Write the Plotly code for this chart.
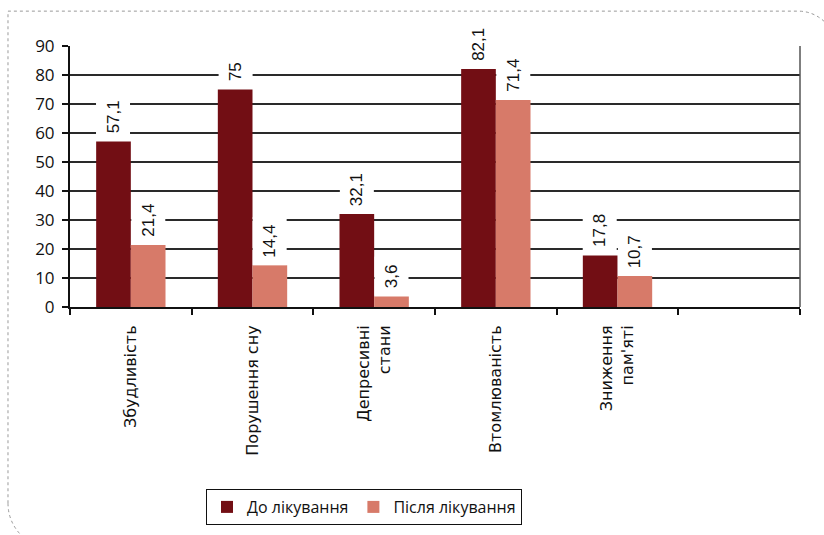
import plotly.graph_objects as go

categories = ["Збудливість", "Порушення сну", "Депресивні<br>стани", "Втомлюваність", "Зниження<br>пам'яті"]
all_categories = categories + [" "]
before = [57.1, 75, 32.1, 82.1, 17.8]
after = [21.4, 14.4, 3.6, 71.4, 10.7]
series_names = ["До лікування", "Після лікування"]
y_ticks = [0, 10, 20, 30, 40, 50, 60, 70, 80, 90]

W, H = 824, 535
L, R, T, B = 70, 24, 46, 227
PW, PH = W - L - R, H - T - B

def px(X):
    return (X - L) / PW

def py(Y):
    return (H - B - Y) / PH

DARK = "#720E14"
LIGHT = "#D77A69"

fig = go.Figure()
fig.add_trace(go.Bar(x=categories, y=before, name=series_names[0], marker_color=DARK, marker_line_width=0))
fig.add_trace(go.Bar(x=categories, y=after, name=series_names[1], marker_color=LIGHT, marker_line_width=0))

def fmt(v):
    s = ("%g" % v).replace(".", ",")
    return s

annotations = []
for vals, shift in ((before, -17.4), (after, 17.4)):
    for c, v in zip(categories, vals):
        annotations.append(dict(
            x=c, y=v, xref="x", yref="y", text=fmt(v), showarrow=False,
            textangle=-90, xanchor="center", yanchor="bottom", xshift=shift, yshift=0,
            font=dict(family="Liberation Sans, Arial", size=17, color="#111"),
            bgcolor="white", borderpad=7,
        ))

shapes = [
    # right border of plot area
    dict(type="line", xref="paper", yref="paper", x0=1, x1=1, y0=0, y1=1,
         line=dict(color="#555", width=1.5)),
    # dotted outer frame
    dict(type="path", xref="paper", yref="paper",
         path=("M %f,%f L %f,%f L %f,%f Q %f,%f %f,%f M %f,%f Q %f,%f %f,%f" % (
             px(8), py(505), px(8), py(11), px(798), py(11),
             px(818), py(11), px(832), py(30),
             px(8), py(505), px(8), py(525), px(24), py(540))),
         line=dict(color="#9a9a9a", width=1, dash="dot")),
]

fig.update_layout(
    width=W, height=H,
    margin=dict(l=L, r=R, t=T, b=B, pad=0),
    paper_bgcolor="white", plot_bgcolor="white",
    barmode="group", bargap=0.43, bargroupgap=0,
    showlegend=True,
    legend=dict(orientation="h", x=px(206), y=py(489), xanchor="left", yanchor="top",
                bordercolor="#111", borderwidth=1, bgcolor="white",
                font=dict(family="Open Sans", size=16, color="#111"),
                itemwidth=30, traceorder="normal"),
    annotations=annotations,
    shapes=shapes,
    xaxis=dict(type="category", categoryorder="array", categoryarray=all_categories,
               tickangle=-90, tickson="boundaries", ticks="outside", ticklen=6, tickwidth=2,
               tickcolor="#111", showline=True, linecolor="#111", linewidth=2,
               tickfont=dict(family="DejaVu Sans", size=16, color="#111"),
               ticklabelstandoff=10,
               showgrid=False, range=[-0.5, 5.5], fixedrange=True),
    yaxis=dict(range=[0, 90], tickvals=y_ticks, ticks="outside", ticklen=6, tickwidth=2,
               tickcolor="#111", showline=True, linecolor="#111", linewidth=2,
               showgrid=True, gridcolor="#2a2a2a", gridwidth=1.5,
               tickfont=dict(family="Open Sans", size=17, color="#111"),
               zeroline=False, ticklabelstandoff=4),
)

fig.write_html("out.html")
